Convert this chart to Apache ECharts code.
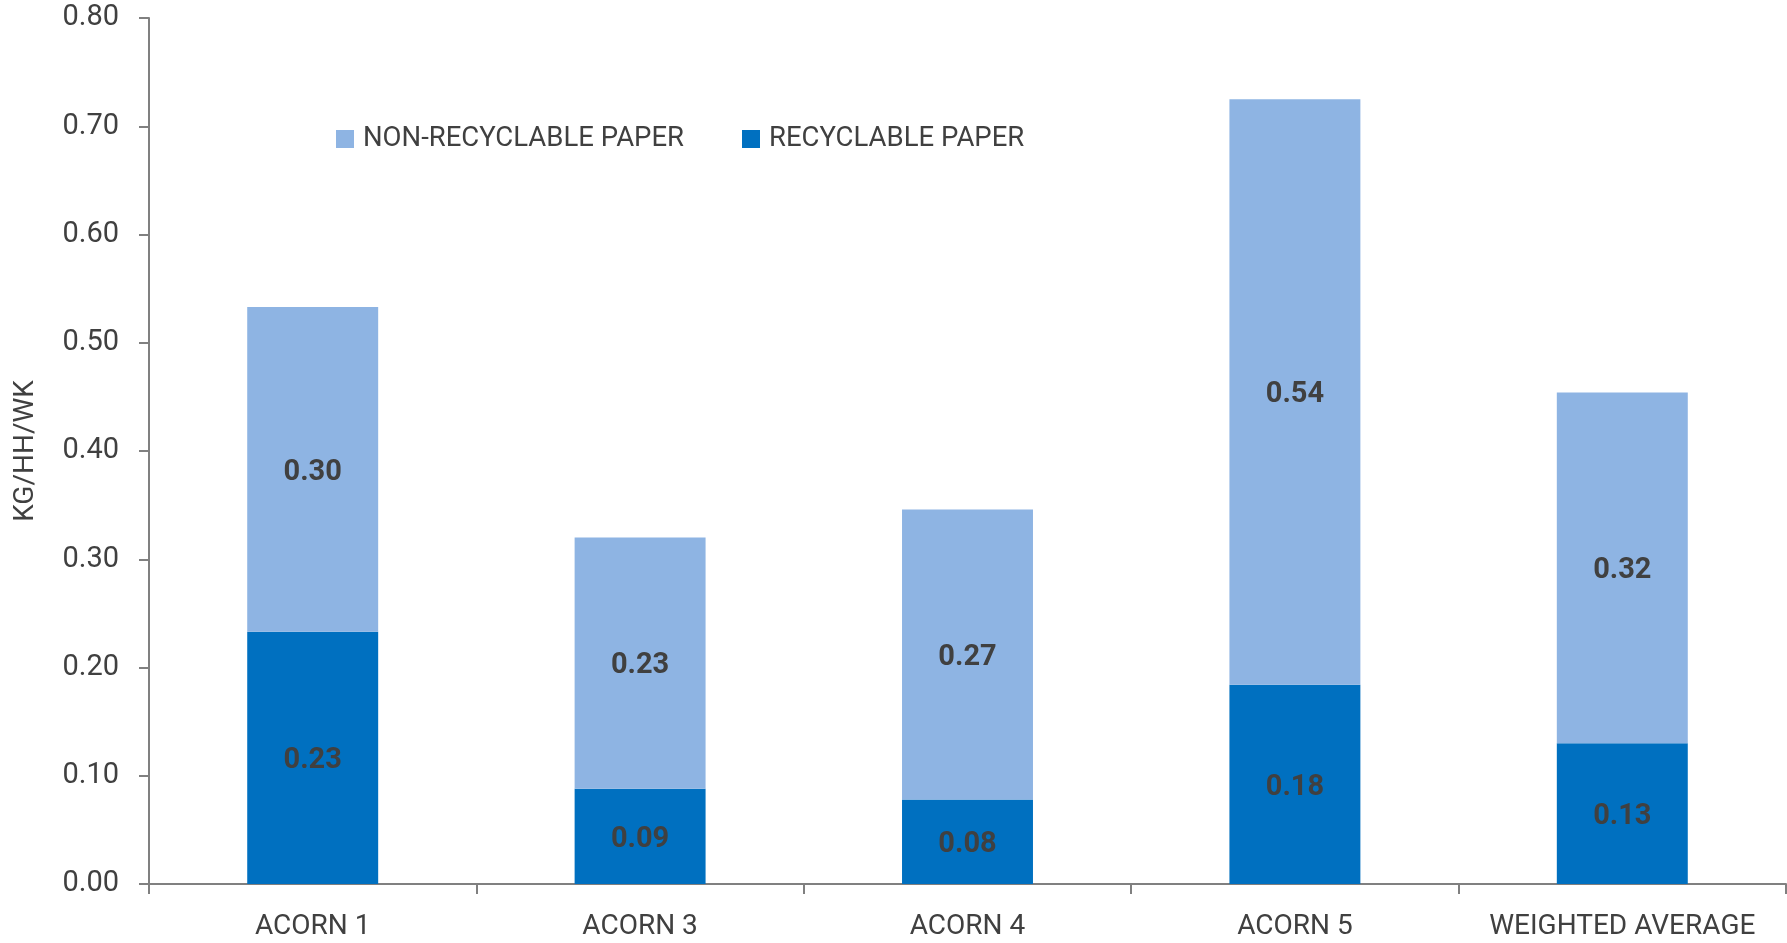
<!DOCTYPE html>
<html>
<head>
<meta charset="utf-8">
<script src="https://cdn.jsdelivr.net/npm/echarts@6/dist/echarts.min.js"></script>
<style>
  html, body { margin: 0; padding: 0; background: #ffffff; }
  #chart { width: 1787px; height: 943px; }
</style>
</head>
<body>
<div id="chart"></div>
<script>
// Paper in household waste by ACORN group (kg per household per week)
const categories = ['ACORN 1', 'ACORN 3', 'ACORN 4', 'ACORN 5', 'WEIGHTED AVERAGE'];
const recyclablePaper = [0.233, 0.088, 0.078, 0.184, 0.130];
const nonRecyclablePaper = [0.300, 0.232, 0.268, 0.541, 0.324];
const yTicks = { min: 0, max: 0.8, interval: 0.1 };
const axisTitle = 'KG/HH/WK';

const FONT = "Roboto, 'Liberation Sans', Arial, sans-serif";
const TEXT = '#404040';
const AXIS = '#808080';

const segmentLabel = {
  show: true,
  position: 'inside',
  offset: [0, 3],
  color: TEXT,
  fontFamily: FONT,
  fontWeight: 'bold',
  fontSize: 29,
  formatter: p => p.value.toFixed(2)
};

const chart = echarts.init(document.getElementById('chart'), null, { renderer: 'canvas' });
chart.setOption({
  animation: false,
  backgroundColor: '#ffffff',
  grid: { left: 149, right: 1, top: 18, bottom: 59, containLabel: false, outerBoundsMode: 'none' },
  legend: {
    data: ['NON-RECYCLABLE PAPER', 'RECYCLABLE PAPER'],
    left: 336,
    top: 125,
    padding: 0,
    itemWidth: 18,
    itemHeight: 18,
    itemGap: 58,
    icon: 'rect',
    textStyle: { color: TEXT, fontFamily: FONT, fontSize: 27.5, padding: [0, 0, 0, 4] }
  },
  xAxis: {
    type: 'category',
    data: categories,
    axisLine: { lineStyle: { color: AXIS, width: 2 } },
    axisTick: { show: true, length: 10, lineStyle: { color: AXIS, width: 2 } },
    axisLabel: { color: TEXT, fontFamily: FONT, fontSize: 28, margin: 29, interval: 0 }
  },
  yAxis: {
    type: 'value',
    min: yTicks.min,
    max: yTicks.max,
    interval: yTicks.interval,
    name: axisTitle,
    nameLocation: 'middle',
    nameGap: 109,
    nameRotate: 90,
    nameTextStyle: { color: TEXT, fontFamily: FONT, fontSize: 28 },
    axisLine: { show: true, lineStyle: { color: AXIS, width: 2 } },
    axisTick: { show: true, length: 10, lineStyle: { color: AXIS, width: 2 } },
    splitLine: { show: false },
    axisLabel: {
      color: TEXT,
      fontFamily: FONT,
      fontSize: 29,
      margin: 30,
      formatter: v => v.toFixed(2)
    }
  },
  series: [
    {
      name: 'RECYCLABLE PAPER',
      type: 'bar',
      stack: 'paper',
      barWidth: '40%',
      data: recyclablePaper,
      itemStyle: { color: '#0070C0' },
      label: segmentLabel
    },
    {
      name: 'NON-RECYCLABLE PAPER',
      type: 'bar',
      stack: 'paper',
      barWidth: '40%',
      data: nonRecyclablePaper,
      itemStyle: { color: '#8EB4E3' },
      label: segmentLabel
    }
  ]
});
</script>
</body>
</html>
